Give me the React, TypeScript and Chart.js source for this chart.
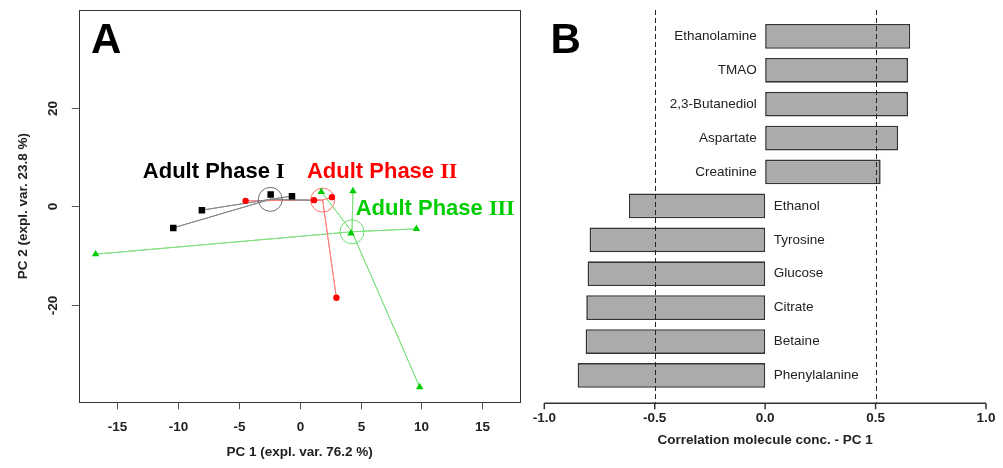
import React, { useEffect, useRef } from "react";
import { Chart, registerables } from "chart.js";

Chart.register(...registerables);

// ---------- Panel A data (PCA scores) ----------
const blackX = [-2.38, -0.63, -8.03, -10.38, 1.15];
const blackY = [2.38, 2.03, -0.81, -4.41, 1.2];
const blackShown = [true, true, true, true, false];
const blackCentroid = [-2.41, 1.38];

const redX = [-4.44, 1.18, 2.65, 3.02];
const redY = [1.08, 1.22, 1.83, -18.6];
const redCentroid = [1.89, 1.22];

const greenX = [1.78, 4.38, 9.59, -16.76, 9.86, 4.22];
const greenY = [2.9, 3.05, -4.6, -9.75, -36.7, -5.5];
const greenCentroid = [4.3, -5.2];

const groupNames = ["Adult Phase ", "Adult Phase ", "Adult Phase "];
const groupNumerals = ["I", "II", "III"];
const groupLabelX = [-12.88, 0.6, 4.6];
const groupLabelY = [5.62, 5.75, -1.83];

const xTicksA = [-15, -10, -5, 0, 5, 10, 15];
const yTicksA = [-20, 0, 20];

// ---------- Panel B data (correlations) ----------
const molecules = [
  "Ethanolamine",
  "TMAO",
  "2,3-Butanediol",
  "Aspartate",
  "Creatinine",
  "Ethanol",
  "Tyrosine",
  "Glucose",
  "Citrate",
  "Betaine",
  "Phenylalanine",
];
const correlations = [0.657, 0.647, 0.647, 0.602, 0.523, -0.617, -0.795, -0.804, -0.81, -0.813, -0.849];
const xTicksB = [-1, -0.5, 0, 0.5, 1];
const thresholds = [-0.5, 0.5];

const SANS = '"Liberation Sans", Arial, Helvetica, sans-serif';
const SERIF = '"Liberation Serif", "Times New Roman", serif';

const star = (xs: number[], ys: number[], c: number[]) => {
  const pts: { x: number; y: number }[] = [];
  xs.forEach((x, i) => {
    pts.push({ x: c[0], y: c[1] });
    pts.push({ x, y: ys[i] });
  });
  pts.push({ x: c[0], y: c[1] });
  return pts;
};

export default function App() {
  const refA = useRef<HTMLCanvasElement>(null);
  const refB = useRef<HTMLCanvasElement>(null);

  useEffect(() => {
    const colors = ["#000000", "#FF0000", "#00CD00"];
    const lineCols = ["#8a8a8a", "#FF8080", "#80E080"];

    const axesA = {
      id: "axesA",
      afterDatasetsDraw(chart: any) {
        const ctx = chart.ctx;
        const a = chart.chartArea;
        const xs = chart.scales.x;
        const ys = chart.scales.y;
        ctx.save();
        // group labels (clipped to plot region)
        ctx.save();
        ctx.beginPath();
        ctx.rect(a.left, a.top, a.right - a.left, a.bottom - a.top);
        ctx.clip();
        ctx.textBaseline = "alphabetic";
        ctx.textAlign = "left";
        for (let i = 0; i < 3; i++) {
          const px = xs.getPixelForValue(groupLabelX[i]);
          const py = ys.getPixelForValue(groupLabelY[i]);
          ctx.fillStyle = colors[i];
          ctx.font = `bold 22px ${SANS}`;
          ctx.fillText(groupNames[i], px, py);
          const w = ctx.measureText(groupNames[i]).width;
          ctx.font = `bold 22px ${SERIF}`;
          ctx.fillText(groupNumerals[i], px + w, py);
        }
        ctx.restore();

        // box
        ctx.strokeStyle = "#333";
        ctx.lineWidth = 1;
        ctx.strokeRect(Math.round(a.left) + 0.5, Math.round(a.top) + 0.5, Math.round(a.right - a.left), Math.round(a.bottom - a.top));

        // x ticks
        ctx.strokeStyle = "#555";
        ctx.fillStyle = "#222";
        ctx.font = `bold 13.5px ${SANS}`;
        ctx.textAlign = "center";
        ctx.textBaseline = "middle";
        xTicksA.forEach((t) => {
          const px = Math.round(xs.getPixelForValue(t)) + 0.5;
          ctx.beginPath();
          ctx.moveTo(px, a.bottom);
          ctx.lineTo(px, a.bottom + 7);
          ctx.stroke();
          ctx.fillText(String(t), px, 427.5);
        });
        // y ticks
        yTicksA.forEach((t) => {
          const py = Math.round(ys.getPixelForValue(t)) + 0.5;
          ctx.beginPath();
          ctx.moveTo(a.left - 7.5, py);
          ctx.lineTo(a.left, py);
          ctx.stroke();
          ctx.save();
          ctx.translate(53.5, py);
          ctx.rotate(-Math.PI / 2);
          ctx.fillText(String(t), 0, 0);
          ctx.restore();
        });
        // titles
        ctx.fillText("PC 1 (expl. var. 76.2 %)", (a.left + a.right) / 2, 452);
        ctx.save();
        ctx.translate(23, (a.top + a.bottom) / 2);
        ctx.rotate(-Math.PI / 2);
        ctx.fillText("PC 2 (expl. var. 23.8 %)", 0, 0);
        ctx.restore();
        // panel letter
        ctx.fillStyle = "#000";
        ctx.font = `bold 42px ${SANS}`;
        ctx.textAlign = "left";
        ctx.textBaseline = "alphabetic";
        ctx.fillText("A", 91, 52.5);
        ctx.restore();
      },
    };

    const lineDs = (pts: any[], col: string) => ({
      type: "line" as const,
      data: pts,
      showLine: true,
      borderColor: col,
      borderWidth: 1,
      pointRadius: 0,
      fill: false,
      order: 3,
    });

    const chartA = new Chart(refA.current!, {
      type: "scatter",
      data: {
        datasets: [
          lineDs(star(blackX, blackY, blackCentroid), lineCols[0]),
          lineDs(star(redX, redY, redCentroid), lineCols[1]),
          lineDs(star(greenX, greenY, greenCentroid), lineCols[2]),
          {
            data: [
              { x: blackCentroid[0], y: blackCentroid[1] },
              { x: redCentroid[0], y: redCentroid[1] },
              { x: greenCentroid[0], y: greenCentroid[1] },
            ],
            pointStyle: "circle",
            pointRadius: 12,
            pointBorderWidth: 1,
            pointBackgroundColor: "rgba(0,0,0,0)",
            pointBorderColor: ["#6e6e6e", "#FF7070", "#6EDC6E"],
            order: 2,
          } as any,
          {
            data: blackX.map((x, i) => ({ x, y: blackY[i] })),
            pointStyle: "rect",
            pointRadius: blackShown.map((s) => (s ? 4.6 : 0)),
            pointBorderWidth: 0,
            pointBackgroundColor: colors[0],
            pointBorderColor: colors[0],
            order: 1,
          } as any,
          {
            data: redX.map((x, i) => ({ x, y: redY[i] })),
            pointStyle: "circle",
            pointRadius: 3.2,
            pointBorderWidth: 0,
            pointBackgroundColor: colors[1],
            pointBorderColor: colors[1],
            order: 0,
          } as any,
          {
            data: greenX.map((x, i) => ({ x, y: greenY[i] })),
            pointStyle: "triangle",
            pointRadius: 4.3,
            pointBorderWidth: 0,
            pointBackgroundColor: colors[2],
            pointBorderColor: colors[2],
            order: 0,
          } as any,
        ],
      },
      options: {
        responsive: false,
        animation: false,
        devicePixelRatio: 1,
        layout: { autoPadding: false, padding: { left: 79.3, right: 10, top: 10, bottom: 65.7 } },
        plugins: { legend: { display: false }, tooltip: { enabled: false } },
        scales: {
          x: { type: "linear", min: -18.1, max: 18.1, display: false },
          y: { type: "linear", min: -39.8, max: 39.8, display: false },
        },
      },
      plugins: [axesA],
    } as any);

    const OFF = 530;
    const axesB = {
      id: "axesB",
      afterDatasetsDraw(chart: any) {
        const ctx = chart.ctx;
        const xs = chart.scales.x;
        const ys = chart.scales.y;
        const axisY = 403.3;
        ctx.save();
        // dashed threshold lines
        ctx.strokeStyle = "#222";
        ctx.lineWidth = 1;
        ctx.setLineDash([5, 3]);
        thresholds.forEach((t) => {
          const px = Math.round(xs.getPixelForValue(t)) + 0.5;
          ctx.beginPath();
          ctx.moveTo(px, 10);
          ctx.lineTo(px, axisY);
          ctx.stroke();
        });
        ctx.setLineDash([]);
        // axis line
        ctx.strokeStyle = "#333";
        ctx.lineWidth = 1.5;
        ctx.beginPath();
        ctx.moveTo(xs.getPixelForValue(xTicksB[0]), axisY);
        ctx.lineTo(xs.getPixelForValue(xTicksB[xTicksB.length - 1]), axisY);
        ctx.stroke();
        ctx.fillStyle = "#222";
        ctx.font = `bold 13.5px ${SANS}`;
        ctx.textAlign = "center";
        ctx.textBaseline = "middle";
        xTicksB.forEach((t) => {
          const px = xs.getPixelForValue(t);
          ctx.beginPath();
          ctx.moveTo(px, axisY);
          ctx.lineTo(px, axisY + 6);
          ctx.stroke();
          ctx.fillText(t.toFixed(1), px, 418.5);
        });
        ctx.fillText("Correlation molecule conc. - PC 1", xs.getPixelForValue(0), 440.5);
        // molecule labels
        ctx.font = `13.5px ${SANS}`;
        const zero = xs.getPixelForValue(0);
        molecules.forEach((m, i) => {
          const py = ys.getPixelForValue(i);
          if (correlations[i] >= 0) {
            ctx.textAlign = "right";
            ctx.fillText(m, zero - 8.3, py);
          } else {
            ctx.textAlign = "left";
            ctx.fillText(m, zero + 8.7, py);
          }
        });
        // panel letter
        ctx.fillStyle = "#000";
        ctx.font = `bold 42px ${SANS}`;
        ctx.textAlign = "left";
        ctx.textBaseline = "alphabetic";
        ctx.fillText("B", 550.5 - OFF, 52.5);
        ctx.restore();
      },
    };

    const chartB = new Chart(refB.current!, {
      type: "bar",
      data: {
        labels: molecules,
        datasets: [
          {
            data: correlations,
            backgroundColor: "#ABABAB",
            borderColor: "#333333",
            borderWidth: 1.6,
            borderSkipped: false,
            barPercentage: 0.73,
            categoryPercentage: 1,
          },
        ],
      },
      options: {
        indexAxis: "y",
        responsive: false,
        animation: false,
        devicePixelRatio: 1,
        layout: { autoPadding: false, padding: { left: 544.3 - OFF, right: 473 - (986 - OFF), top: 19.4, bottom: 468 - 392.4 } },
        plugins: { legend: { display: false }, tooltip: { enabled: false } },
        scales: {
          x: { type: "linear", min: -1, max: 1, display: false },
          y: { type: "category", display: false },
        },
      },
      plugins: [axesB],
    } as any);

    return () => {
      chartA.destroy();
      chartB.destroy();
    };
  }, []);

  return (
    <div style={{ position: "fixed", left: 0, top: 0, width: 1003, height: 468, background: "#fff" }}>
      <canvas ref={refA} width={530} height={468} style={{ position: "absolute", left: 0, top: 0 }} />
      <canvas ref={refB} width={473} height={468} style={{ position: "absolute", left: 530, top: 0 }} />
    </div>
  );
}
